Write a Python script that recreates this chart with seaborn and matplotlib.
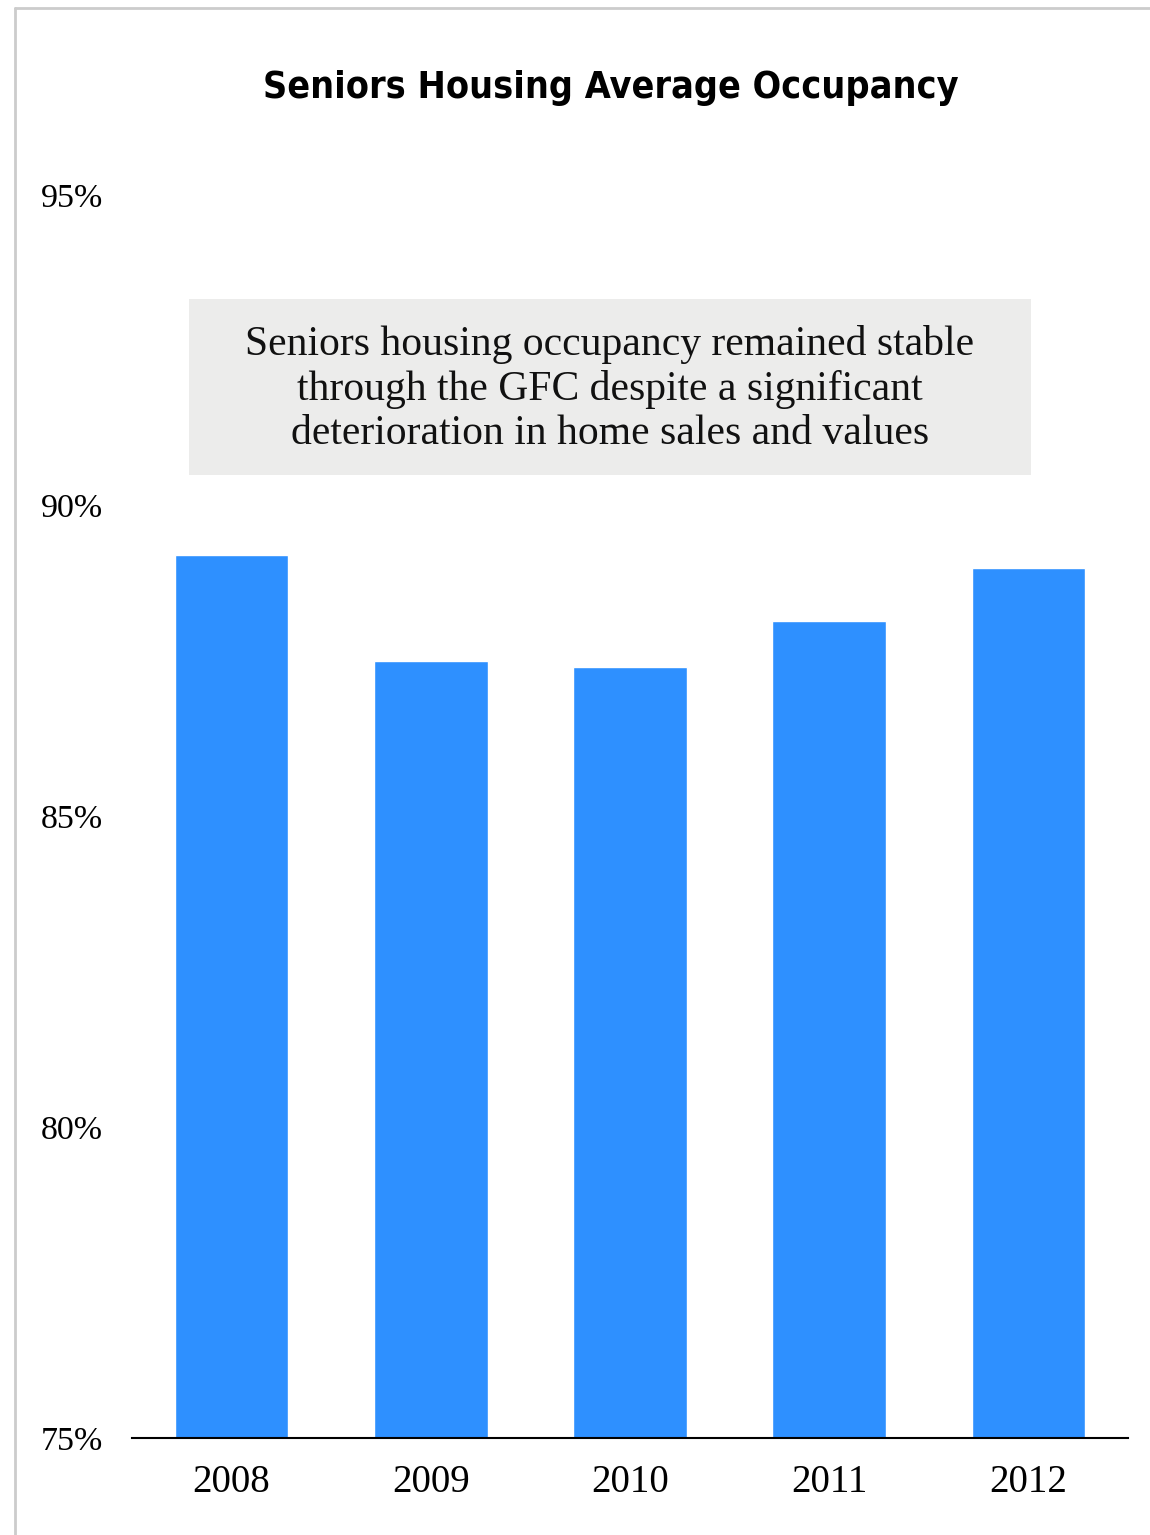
import numpy as np
import pandas as pd
import matplotlib
matplotlib.use('Agg')
import matplotlib.pyplot as plt
import seaborn as sns
from matplotlib.patches import Rectangle
from matplotlib.lines import Line2D

years = ['2008', '2009', '2010', '2011', '2012']
occupancy = [89.2, 87.5, 87.4, 88.15, 89.0]
y_ticks = [75, 80, 85, 90, 95]
title = 'Seniors Housing Average Occupancy'
note = ('Seniors housing occupancy remained stable\n'
        'through the GFC despite a significant\n'
        'deterioration in home sales and values')

bar_color = '#2E90FF'
serif = ['Liberation Serif', 'DejaVu Serif']

sns.set_theme(style='white')
plt.rcParams['font.family'] = serif
plt.rcParams['text.color'] = 'black'
plt.rcParams['xtick.color'] = 'black'
plt.rcParams['ytick.color'] = 'black'

df = pd.DataFrame({'year': years, 'occupancy': occupancy})

fig = plt.figure(figsize=(11.5, 15.35), dpi=100)
W, H = 1150, 1535
ax = fig.add_axes([132 / W, 1 - 1438 / H, (1128 - 132) / W, (1438 - 195) / H])

sns.barplot(data=df, x='year', y='occupancy', color=bar_color, width=0.57,
            saturation=1, ax=ax)
# bars start at the axis floor
for p in ax.patches:
    p.set_y(75)
    p.set_height(p.get_height() - 75)

ax.set_ylim(75, 95)
ax.set_xlim(-0.5, 4.5)
ax.set_yticks(y_ticks)
ax.set_yticklabels([f'{t}%' for t in y_ticks])
ax.tick_params(axis='y', length=0, pad=21, labelsize=24.5, labelcolor='black')
ax.tick_params(axis='x', length=0, pad=19, labelsize=28, labelcolor='black')
ax.set_xlabel('')
ax.set_ylabel('')
for s in ['top', 'right', 'left']:
    ax.spines[s].set_visible(False)
ax.spines['bottom'].set_color('black')
ax.spines['bottom'].set_linewidth(1.5)
ax.grid(False)

# title
fig.text(611 / W, 1 - 88 / H, title, ha='center', va='center',
         fontsize=27, fontweight='heavy', fontstretch='condensed',
         family=['DejaVu Sans'], color='black')

# annotation box
fig.add_artist(Rectangle((189 / W, 1 - 475 / H), (1031 - 189) / W, (475 - 299) / H,
                         transform=fig.transFigure, facecolor='#ECECEB',
                         edgecolor='none', zorder=3))
fig.text(610 / W, 1 - 389 / H, note, ha='center', va='center', fontsize=30,
         linespacing=1.2, color='#111111', zorder=4)

# frame lines (top and left)
fig.add_artist(Line2D([15 / W, 1], [1 - 8 / H, 1 - 8 / H], transform=fig.transFigure,
                      color='#CCCCCC', linewidth=2))
fig.add_artist(Line2D([15 / W, 15 / W], [0, 1 - 8 / H], transform=fig.transFigure,
                      color='#CCCCCC', linewidth=2))

fig.savefig('out.png', dpi=100, facecolor='white')
